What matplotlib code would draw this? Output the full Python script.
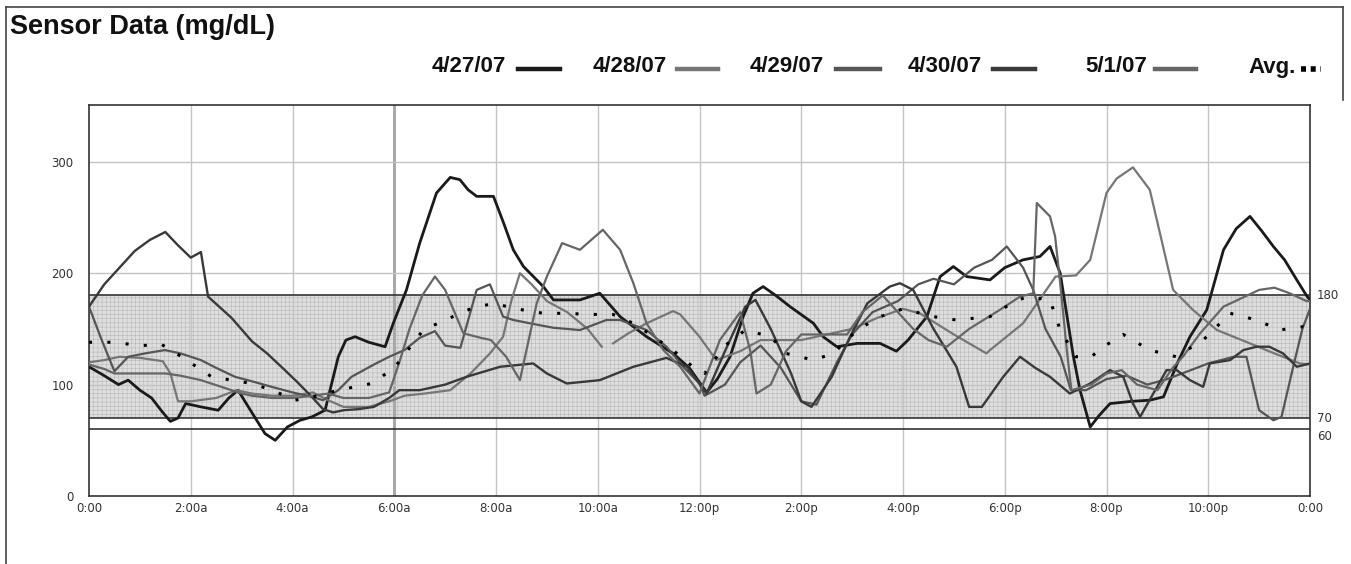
import numpy as np
import matplotlib
matplotlib.use("Agg")
import matplotlib.pyplot as plt
from matplotlib.lines import Line2D

# ---------------------------------------------
# data: (hour of day, mg/dL)
# ---------------------------------------------
d_0427 = [(0, 116), (0.3, 108), (0.58, 100), (0.77, 104), (1.0, 95), (1.23, 88), (1.45, 75), (1.6, 67),
          (1.75, 70), (1.9, 83), (2.2, 80), (2.54, 77), (2.75, 88), (2.93, 95), (3.2, 75), (3.46, 56),
          (3.66, 50), (3.9, 62), (4.15, 68), (4.38, 71), (4.64, 77), (4.9, 125), (5.05, 140), (5.23, 143),
          (5.5, 138), (5.82, 134), (5.98, 155), (6.24, 185), (6.5, 227), (6.83, 272), (7.1, 286), (7.29, 284),
          (7.45, 275), (7.62, 269), (7.95, 269), (8.15, 245), (8.34, 221), (8.54, 206), (8.93, 188), (9.13, 176),
          (9.65, 176), (10.04, 182), (10.44, 161), (10.96, 143), (11.48, 128), (11.8, 115), (12.14, 93),
          (12.35, 105), (12.6, 125), (12.85, 160), (13.05, 182), (13.25, 188), (13.5, 180), (13.78, 170),
          (14.24, 155), (14.43, 143), (14.7, 134), (15.1, 137), (15.55, 137), (15.87, 130), (16.1, 140),
          (16.47, 161), (16.73, 197), (16.99, 206), (17.25, 197), (17.71, 194), (18.0, 205), (18.36, 212),
          (18.69, 215), (18.89, 224), (19.09, 200), (19.35, 125), (19.48, 95), (19.68, 62), (19.85, 72),
          (20.07, 83), (20.5, 85), (20.85, 86), (21.12, 89), (21.4, 120), (21.64, 143), (21.97, 167),
          (22.3, 221), (22.55, 240), (22.82, 251), (23.05, 238), (23.28, 224), (23.5, 212), (23.74, 194),
          (23.93, 180), (24, 176)]

d_0428 = [(0, 120), (0.3, 122), (0.6, 125), (1.0, 124), (1.45, 121), (1.6, 110), (1.75, 85), (2.0, 85),
          (2.5, 88), (2.9, 95), (3.2, 92), (3.6, 90), (4.0, 90), (4.4, 93), (4.7, 86), (5.0, 80), (5.5, 80),
          (5.9, 85), (6.2, 90), (6.6, 92), (7.1, 95), (7.5, 110), (7.88, 128), (8.14, 143), (8.3, 175),
          (8.47, 200), (8.7, 190), (9.0, 175), (9.4, 165), (9.8, 150), (10.08, 134), (10.2, np.nan),
          (10.3, 137), (10.6, 146), (10.96, 155), (11.48, 166), (11.62, 163), (12.0, 143), (12.33, 122),
          (12.8, 130), (13.2, 140), (13.6, 140), (14.0, 140), (14.5, 145), (15.0, 150), (15.5, 160),
          (16.0, 168), (16.33, 164), (17.0, 145), (17.64, 128), (17.71, 131), (18.36, 155), (19.0, 197),
          (19.4, 198), (19.68, 212), (20.0, 272), (20.2, 285), (20.52, 295), (20.85, 275), (21.05, 236),
          (21.31, 185), (21.7, 167), (22.17, 149), (22.82, 137), (23.3, 128), (23.8, 119), (24, 118)]

d_0429 = [(0, 170), (0.25, 140), (0.5, 112), (0.77, 125), (1.1, 128), (1.49, 131), (1.8, 128), (2.2, 122),
          (2.5, 115), (2.87, 107), (3.2, 103), (3.59, 98), (4.0, 93), (4.38, 89), (4.6, 86), (4.9, 95),
          (5.16, 107), (5.6, 118), (5.9, 125), (6.2, 131), (6.5, 142), (6.8, 148), (7.0, 135), (7.3, 133),
          (7.62, 185), (7.88, 190), (8.14, 161), (8.34, 158), (8.67, 155), (9.13, 151), (9.65, 149),
          (10.17, 158), (10.44, 158), (10.96, 149), (11.35, 134), (11.7, 115), (12.0, 101), (12.1, 90),
          (12.5, 100), (12.8, 120), (13.2, 135), (13.6, 115), (14.0, 85), (14.3, 82), (14.7, 120),
          (15.0, 145), (15.4, 165), (15.9, 175), (16.3, 190), (16.6, 195), (17.0, 190), (17.4, 205),
          (17.75, 212), (18.04, 224), (18.36, 205), (18.56, 185), (18.8, 150), (19.1, 125), (19.3, 95),
          (19.6, 95), (20.0, 105), (20.4, 108), (20.8, 100), (21.2, 105), (21.6, 112), (22.0, 119),
          (22.5, 125), (22.75, 125), (23.0, 77), (23.28, 68), (23.44, 71), (23.67, 116), (23.85, 150),
          (24, 168)]

d_0430 = [(0, 170), (0.3, 190), (0.6, 205), (0.9, 220), (1.2, 230), (1.5, 237), (1.75, 225), (2.0, 214),
          (2.2, 219), (2.34, 179), (2.8, 160), (3.2, 139), (3.5, 128), (3.85, 113), (4.1, 102), (4.38, 89),
          (4.6, 78), (4.8, 75), (5.0, 77), (5.3, 78), (5.6, 80), (5.9, 88), (6.1, 95), (6.5, 95), (7.0, 100),
          (7.42, 107), (8.08, 116), (8.73, 119), (9.0, 110), (9.39, 101), (10.04, 104), (10.7, 116),
          (11.35, 124), (11.75, 116), (12.14, 92), (12.5, 130), (12.9, 170), (13.1, 176), (13.4, 150),
          (13.8, 110), (14.0, 85), (14.2, 80), (14.6, 107), (14.96, 143), (15.3, 173), (15.74, 188),
          (15.94, 191), (16.2, 185), (16.6, 150), (17.05, 116), (17.3, 80), (17.55, 80), (17.97, 107),
          (18.3, 125), (18.6, 115), (18.89, 107), (19.28, 92), (19.68, 101), (20.07, 113), (20.33, 107),
          (20.52, 83), (20.66, 71), (20.92, 92), (21.18, 113), (21.38, 113), (21.64, 104), (21.9, 98),
          (22.03, 119), (22.43, 122), (22.69, 131), (22.95, 134), (23.2, 134), (23.47, 128), (23.74, 116),
          (24, 119)]

d_0501 = [(0, 118), (0.3, 114), (0.5, 110), (1.0, 110), (1.5, 110), (1.8, 108), (2.2, 104), (2.6, 98),
          (3.0, 92), (3.2, 90), (3.6, 88), (4.0, 88), (4.4, 90), (4.7, 92), (5.0, 88), (5.5, 88), (5.9, 93),
          (6.1, 120), (6.3, 150), (6.55, 180), (6.8, 197), (7.0, 185), (7.36, 146), (7.7, 142), (7.9, 140),
          (8.2, 125), (8.47, 104), (8.8, 173), (9.0, 197), (9.3, 227), (9.65, 221), (10.1, 239), (10.44, 221),
          (10.7, 191), (10.96, 155), (11.29, 131), (11.62, 116), (12.0, 92), (12.4, 140), (12.8, 165),
          (13.0, 130), (13.12, 92), (13.4, 100), (13.7, 130), (14.0, 145), (14.5, 145), (14.9, 145),
          (15.2, 165), (15.6, 180), (15.9, 165), (16.2, 150), (16.5, 140), (16.86, 134), (17.3, 150),
          (17.9, 167), (18.3, 179), (18.56, 182), (18.63, 263), (18.89, 251), (18.99, 233), (19.09, 191),
          (19.22, 131), (19.31, 95), (19.7, 100), (20.0, 110), (20.3, 113), (20.6, 100), (21.0, 95),
          (21.3, 115), (21.5, 125), (21.84, 146), (22.3, 170), (23.0, 185), (23.3, 187), (23.6, 182),
          (23.93, 175), (24, 175)]

d_avg = [(0, 138), (0.5, 138), (1.0, 135), (1.43, 136), (1.82, 125), (2.41, 107), (3.2, 101), (3.6, 95),
         (4.05, 86), (4.5, 90), (4.9, 95), (5.56, 101), (6.0, 115), (6.57, 149), (7.1, 160), (7.5, 168),
         (7.95, 173), (8.4, 168), (8.93, 164), (9.3, 164), (9.9, 163), (10.3, 163), (10.7, 155), (11.1, 143),
         (11.5, 130), (11.87, 116), (12.1, 110), (12.5, 135), (12.9, 149), (13.4, 143), (13.7, 128),
         (14.24, 122), (14.63, 128), (15.1, 149), (15.55, 161), (16.0, 168), (16.6, 161), (17.05, 158),
         (17.71, 161), (18.1, 172), (18.43, 179), (18.89, 176), (19.09, 149), (19.4, 125), (19.7, 125),
         (19.94, 134), (20.33, 145), (20.85, 131), (21.37, 125), (21.9, 140), (22.43, 164), (22.95, 158),
         (23.4, 149), (23.86, 152), (24, 150)]

days = ["4/27/07", "4/28/07", "4/29/07", "4/30/07", "5/1/07"]
day_data = [d_0427, d_0428, d_0429, d_0430, d_0501]
day_colors = ["#1a1a1a", "#767676", "#555555", "#393939", "#666666"]
day_widths = [2.0, 1.6, 1.6, 1.7, 1.6]

target_low, target_high = 70, 180
limit_lines = [180, 70, 60]
x_ticks = list(range(0, 25, 2))
x_labels = ["0:00", "2:00a", "4:00a", "6:00a", "8:00a", "10:00a", "12:00p",
            "2:00p", "4:00p", "6:00p", "8:00p", "10:00p", "0:00"]
y_ticks = [0, 100, 200, 300]

# ---------------------------------------------
# figure
# ---------------------------------------------
plt.rcParams['font.family'] = ['DejaVu Sans']
plt.rcParams['hatch.linewidth'] = 0.35
plt.rcParams['hatch.color'] = '#b4b4b4'

W, H = 1351, 564
fig = plt.figure(figsize=(W / 100, H / 100), dpi=100)
ax = fig.add_axes([89 / W, 1 - 496 / H, (1310 - 89) / W, (496 - 105) / H])

# target band and limit lines
ax.axhspan(target_low, target_high, facecolor='#dedede', edgecolor='#b4b4b4',
           hatch='++++', linewidth=0, zorder=1)
for y in limit_lines:
    ax.axhline(y, color='#333333', lw=1.2, zorder=2)

# grid
for x in x_ticks[1:-1]:
    if x == 6:
        ax.axvline(x, color='#a8a8a8', lw=2.2, zorder=1.5)
    else:
        ax.axvline(x, color='#c4c4c4', lw=1.0, zorder=1.5)
for y in y_ticks[1:]:
    ax.axhline(y, color='#c4c4c4', lw=1.0, zorder=1.5)

# daily traces
for data, c, lw in zip(day_data, day_colors, day_widths):
    hrs = [p[0] for p in data]
    vals = [p[1] for p in data]
    ax.plot(hrs, vals, color=c, lw=lw, solid_joinstyle='round', zorder=3)

# average
ax.plot([p[0] for p in d_avg], [p[1] for p in d_avg], color='black', lw=2.2,
        linestyle=(0, (1, 5)), zorder=4)

ax.set_xlim(0, 24)
ax.set_ylim(0, 351)
ax.set_xticks(x_ticks)
ax.set_xticklabels(x_labels)
ax.set_yticks(y_ticks)
ax.tick_params(length=0, labelsize=8.5, labelcolor='#333333')
ax.tick_params(axis='y', pad=11)
ax.tick_params(axis='x', pad=4)
for s in ax.spines.values():
    s.set_color('#333333')
    s.set_linewidth(1.2)

# right-hand limit labels
for y in limit_lines:
    dy = -5 if y == 60 else 0
    ax.annotate(str(y), xy=(1.0, y), xycoords=('axes fraction', 'data'),
                xytext=(5, dy), textcoords='offset points', va='center', ha='left',
                fontsize=8.5, color='#333333')

# title
fig.text(10 / W, 1 - 27 / H, "Sensor Data (mg/dL)", fontsize=19.5, fontweight='bold',
         family=['Liberation Sans', 'DejaVu Sans'], va='center', ha='left', color='#111111')

# legend drawn by hand along the top
legend_x = [432, 593, 750, 908, 1085]
line_x = [(518, 560), (677, 718), (836, 880), (993, 1035), (1155, 1196)]
ly = 1 - 67 / H
for lab, x0, (a, b), c in zip(days, legend_x, line_x, day_colors):
    fig.text(x0 / W, ly, lab, fontsize=16, fontweight='bold',
             family=['Liberation Sans', 'DejaVu Sans'], va='center', ha='left', color='#111111')
    fig.add_artist(Line2D([a / W, b / W], [ly - 2 / H, ly - 2 / H], color=c, lw=3.2,
                          transform=fig.transFigure))
fig.text(1248 / W, ly, "Avg.", fontsize=16, fontweight='bold',
         family=['Liberation Sans', 'DejaVu Sans'], va='center', ha='left', color='#111111')
fig.add_artist(Line2D([1301 / W, 1321 / W], [ly - 2 / H, ly - 2 / H], color='black', lw=4.0,
                      linestyle=(0, (0.9, 0.85)), dash_capstyle='butt', transform=fig.transFigure))

# outer frame of the panel
frame = dict(color='#444444', lw=1.2, transform=fig.transFigure)
fig.add_artist(Line2D([6 / W, 6 / W], [0, 1 - 7 / H], **frame))
fig.add_artist(Line2D([6 / W, 1343 / W], [1 - 7 / H, 1 - 7 / H], **frame))
fig.add_artist(Line2D([1343 / W, 1343 / W], [1 - 7 / H, 1 - 100 / H], **frame))

fig.savefig("out.png", dpi=100)
